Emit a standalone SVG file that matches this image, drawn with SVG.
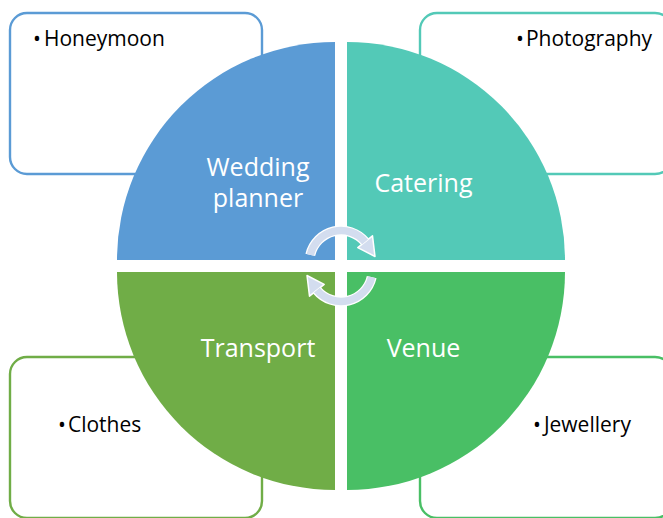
<svg xmlns="http://www.w3.org/2000/svg" width="663" height="518" viewBox="0 0 663 518">
<style>
.box{fill:#FFFFFF;stroke-width:2.4}
.lbl{font-family:"Open Sans","DejaVu Sans",sans-serif;font-size:25px;fill:#FFFFFF;text-anchor:middle}
.bul{font-family:"Open Sans","DejaVu Sans",sans-serif;font-size:21px;fill:#000000}
.halo{fill:none;stroke:#FFFFFF;stroke-width:10}
.band{fill:none;stroke:#D3DDEF;stroke-width:7.5}
.head{fill:#D3DDEF;stroke:#FFFFFF;stroke-width:1.5;stroke-linejoin:round}
</style>
<rect width="663" height="518" fill="#FFFFFF"/>
<g id="box-honeymoon"><rect class="box" x="10" y="13" width="252" height="161" rx="17" stroke="#5B9BD5"/><text class="bul" x="33" y="46">•<tspan dx="3">Honeymoon</tspan></text></g>
<g id="box-photography"><rect class="box" x="420" y="13" width="252" height="161" rx="17" stroke="#53C9B7"/><text class="bul" x="516" y="46">•<tspan dx="2">Photography</tspan></text></g>
<g id="box-clothes"><rect class="box" x="10" y="357" width="252" height="161" rx="17" stroke="#70AD47"/><text class="bul" x="58" y="432">•<tspan dx="2">Clothes</tspan></text></g>
<g id="box-jewellery"><rect class="box" x="420" y="357" width="252" height="161" rx="17" stroke="#49BF65"/><text class="bul" x="533" y="432">•<tspan dx="3">Jewellery</tspan></text></g>
<g id="q-wedding"><path d="M335,260 L117,260 A218,218 0 0 1 335,42 Z" fill="#5B9BD5"/><text class="lbl" x="258" y="176">Wedding</text><text class="lbl" x="258" y="207">planner</text></g>
<g id="q-catering"><path d="M347,260 L347,42 A218,218 0 0 1 565,260 Z" fill="#53C9B7"/><text class="lbl" x="423.5" y="192">Catering</text></g>
<g id="q-venue"><path d="M347,272 L565,272 A218,218 0 0 1 347,490 Z" fill="#49BF65"/><text class="lbl" x="423.5" y="357">Venue</text></g>
<g id="q-transport"><path d="M335,272 L335,490 A218,218 0 0 1 117,272 Z" fill="#70AD47"/><text class="lbl" x="258" y="357">Transport</text></g>
<g id="connectors">
<g id="arrow-top">
<path class="halo" d="M310.3,254.9 A31.5,31.5 0 0 1 365.1,241.8"/>
<polygon class="head" points="372.5,235.8 357.8,247.6 375,256.5"/>
<path class="band" d="M310.3,254.9 A31.5,31.5 0 0 1 365.1,241.8"/>
</g>
<g id="arrow-bottom" transform="rotate(180 341 266)">
<path class="halo" d="M310.3,254.9 A31.5,31.5 0 0 1 365.1,241.8"/>
<polygon class="head" points="372.5,235.8 357.8,247.6 375,256.5"/>
<path class="band" d="M310.3,254.9 A31.5,31.5 0 0 1 365.1,241.8"/>
</g>
</g>
</svg>
